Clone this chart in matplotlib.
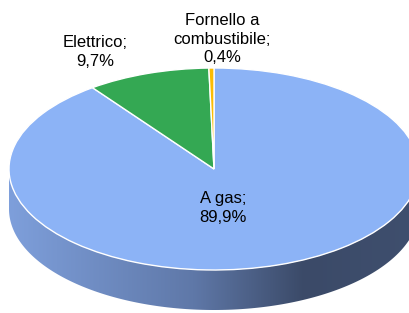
import numpy as np
import matplotlib
matplotlib.use("Agg")
import matplotlib.pyplot as plt
from matplotlib.patches import Polygon
from matplotlib.transforms import Affine2D
from matplotlib.colors import LinearSegmentedColormap

plt.rcParams['font.family'] = ['Liberation Sans', 'DejaVu Sans']

# data
labels = ["A gas", "Elettrico", "Fornello a\ncombustibile"]
values = [89.9, 9.7, 0.4]
colors = ["#8cb3f6", "#34a853", "#fbbc04"]

# pie geometry in pixels
cx, cy = 214, 169
rx, ry = 205, 101
depth = 40

fig = plt.figure(figsize=(4.1, 3.13), dpi=100)
ax = fig.add_axes([0, 0, 1, 1])

# side of the cylinder (front half), gradient fill
t = np.linspace(np.pi, 2 * np.pi, 200)
top_x = cx + rx * np.cos(t)
top_y = cy - ry * np.sin(t)
side = np.concatenate([np.column_stack([top_x, top_y]),
                       np.column_stack([top_x[::-1], top_y[::-1] + depth])])
side_patch = Polygon(side, closed=True, facecolor="none", edgecolor="none")
ax.add_patch(side_patch)

side_cmap = LinearSegmentedColormap.from_list(
    "side", [(0, "#7e9fdb"), (0.45, "#5f78a8"), (0.72, "#3b4a68"), (1, "#3f4f6e")])
grad = np.linspace(0, 1, 256).reshape(1, -1)
im = ax.imshow(grad, cmap=side_cmap, extent=[cx - rx, cx + rx, cy + ry + depth, cy],
               aspect="auto", zorder=1)
im.set_clip_path(side_patch)

# top face
wedges, _ = ax.pie(values, colors=colors, startangle=90, counterclock=False,
                   wedgeprops=dict(edgecolor="white", linewidth=1.0))
tr = Affine2D().scale(rx, -ry).translate(cx, cy) + ax.transData
for w in wedges:
    w.set_transform(tr)
    w.set_zorder(2)

# labels
fs = 12
ls = 1.3
ax.text(223, 208, f"{labels[0]};\n{values[0]:.1f}%".replace(".", ","), ha="center",
        va="center", fontsize=fs, linespacing=ls, zorder=3)
ax.text(95, 52, f"{labels[1]};\n{values[1]:.1f}%".replace(".", ","), ha="center",
        va="center", fontsize=fs, linespacing=ls, zorder=3)
ax.text(222, 39, f"{labels[2]};\n{values[2]:.1f}%".replace(".", ","), ha="center",
        va="center", fontsize=fs, linespacing=ls, zorder=3)

ax.set_xlim(0, 410)
ax.set_ylim(313, 0)
ax.set_aspect("auto")
ax.axis("off")

fig.savefig("out.png", dpi=100)
